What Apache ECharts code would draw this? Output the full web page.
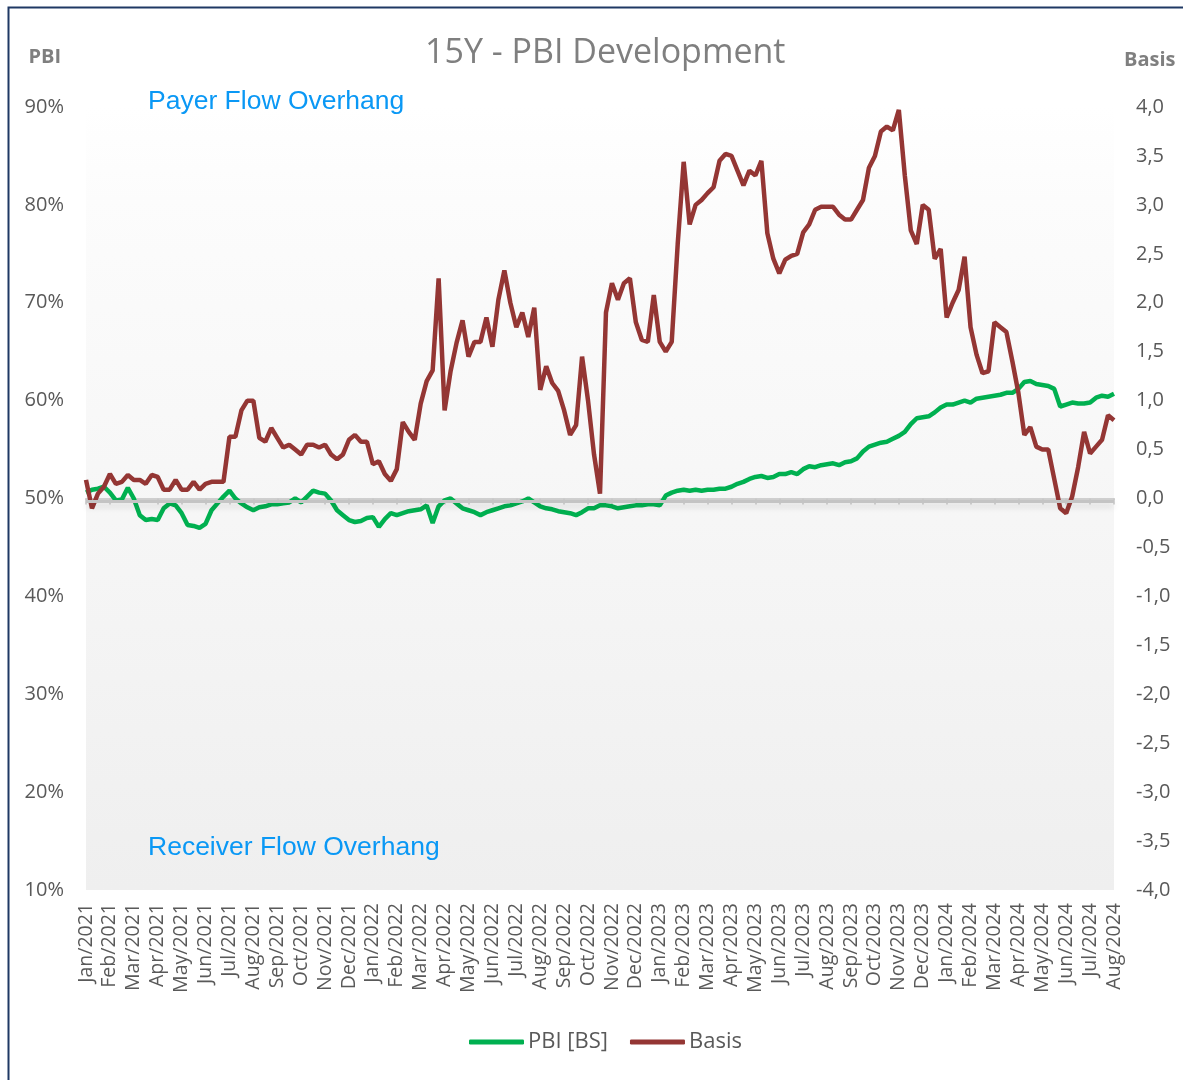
<!DOCTYPE html>
<html>
<head>
<meta charset="utf-8">
<title>15Y - PBI Development</title>
<script src="https://cdn.jsdelivr.net/npm/echarts@6/dist/echarts.min.js"></script>
<style>
  html, body { margin: 0; padding: 0; background: #fff; }
  #pbiChart { width: 1183px; height: 1080px; }
</style>
</head>
<body>
<div id="pbiChart"></div>
<script>
// month tick labels on the x axis
const months = [
  'Jan/2021', 'Feb/2021', 'Mar/2021', 'Apr/2021', 'May/2021', 'Jun/2021', 'Jul/2021', 'Aug/2021',
  'Sep/2021', 'Oct/2021', 'Nov/2021', 'Dec/2021', 'Jan/2022', 'Feb/2022', 'Mar/2022', 'Apr/2022',
  'May/2022', 'Jun/2022', 'Jul/2022', 'Aug/2022', 'Sep/2022', 'Oct/2022', 'Nov/2022', 'Dec/2022',
  'Jan/2023', 'Feb/2023', 'Mar/2023', 'Apr/2023', 'May/2023', 'Jun/2023', 'Jul/2023', 'Aug/2023',
  'Sep/2023', 'Oct/2023', 'Nov/2023', 'Dec/2023', 'Jan/2024', 'Feb/2024', 'Mar/2024', 'Apr/2024',
  'May/2024', 'Jun/2024', 'Jul/2024', 'Aug/2024'
];

// weekly observations (4 per month), PBI in %
const pbi = [
  50.6, 50.9, 51.0, 51.2, 50.6, 49.8, 49.9, 51.1, 50.0, 48.3, 47.8, 47.9, 47.8, 49.0, 49.5, 49.3,
  48.5, 47.3, 47.2, 47.0, 47.4, 48.8, 49.5, 50.2, 50.8, 50.0, 49.5, 49.1, 48.8, 49.1, 49.2, 49.4,
  49.4, 49.5, 49.6, 50.0, 49.6, 50.2, 50.8, 50.6, 50.5, 49.8, 48.8, 48.3, 47.8, 47.6, 47.7, 48.0,
  48.1, 47.1, 47.9, 48.5, 48.3, 48.5, 48.7, 48.8, 48.9, 49.3, 47.5, 49.2, 49.8, 50.0, 49.5, 49.0,
  48.8, 48.6, 48.3, 48.6, 48.8, 49.0, 49.2, 49.3, 49.5, 49.7, 50.0, 49.6, 49.2, 49.0, 48.9, 48.7,
  48.6, 48.5, 48.3, 48.6, 49.0, 49.0, 49.3, 49.3, 49.2, 49.0, 49.1, 49.2, 49.3, 49.3, 49.4, 49.4,
  49.3, 50.3, 50.6, 50.8, 50.9, 50.8, 50.9, 50.8, 50.9, 50.9, 51.0, 51.0, 51.2, 51.5, 51.7, 52.0,
  52.2, 52.3, 52.1, 52.2, 52.5, 52.5, 52.7, 52.5, 53.0, 53.3, 53.2, 53.4, 53.5, 53.6, 53.4, 53.7,
  53.8, 54.1, 54.8, 55.3, 55.5, 55.7, 55.8, 56.1, 56.4, 56.8, 57.6, 58.2, 58.3, 58.4, 58.8, 59.3,
  59.6, 59.6, 59.8, 60.0, 59.8, 60.2, 60.3, 60.4, 60.5, 60.6, 60.8, 60.8, 61.2, 61.9, 62.0, 61.7,
  61.6, 61.5, 61.2, 59.4, 59.6, 59.8, 59.7, 59.7, 59.8, 60.3, 60.5, 60.4, 60.7
];

// weekly basis values
const basis = [
  0.19, -0.10, 0.05, 0.12, 0.25, 0.15, 0.17, 0.24, 0.19, 0.19, 0.15, 0.24, 0.22, 0.09, 0.09, 0.19,
  0.09, 0.09, 0.17, 0.09, 0.15, 0.17, 0.17, 0.17, 0.63, 0.63, 0.90, 1.00, 1.00, 0.62, 0.58, 0.72,
  0.62, 0.52, 0.55, 0.50, 0.45, 0.55, 0.55, 0.52, 0.55, 0.45, 0.40, 0.45, 0.60, 0.65, 0.58, 0.58,
  0.35, 0.38, 0.25, 0.18, 0.30, 0.78, 0.68, 0.60, 0.97, 1.20, 1.31, 2.25, 0.90, 1.30, 1.59, 1.82,
  1.45, 1.60, 1.60, 1.85, 1.55, 2.03, 2.33, 2.00, 1.75, 1.90, 1.65, 1.95, 1.11, 1.35, 1.18, 1.10,
  0.90, 0.65, 0.75, 1.45, 1.00, 0.45, 0.05, 1.90, 2.20, 2.03, 2.20, 2.25, 1.80, 1.62, 1.60, 2.08,
  1.60, 1.50, 1.60, 2.60, 3.44, 2.80, 3.00, 3.05, 3.12, 3.18, 3.45, 3.52, 3.50, 3.35, 3.20, 3.35,
  3.30, 3.45, 2.71, 2.45, 2.30, 2.44, 2.48, 2.50, 2.72, 2.80, 2.95, 2.98, 2.98, 2.98, 2.90, 2.85,
  2.85, 2.95, 3.05, 3.38, 3.50, 3.75, 3.80, 3.76, 3.97, 3.30, 2.74, 2.60, 3.00, 2.95, 2.45, 2.55,
  1.85, 2.00, 2.13, 2.47, 1.75, 1.47, 1.28, 1.30, 1.80, 1.75, 1.70, 1.40, 1.08, 0.65, 0.73, 0.53,
  0.50, 0.50, 0.20, -0.10, -0.15, 0.02, 0.32, 0.68, 0.46, 0.53, 0.60, 0.85, 0.80
];

// one category per week, month start carries the month label
const weeks = [];
months.forEach(function (m, idx) {
  weeks.push(m);
  if (idx < months.length - 1) {
    for (let k = 2; k <= 4; k++) weeks.push(m + ' w' + k);
  }
});

const grey = '#595959';
const tickFont = 'Open Sans';

let myChart = echarts.init(document.getElementById('pbiChart'));

let option = {
  backgroundColor: '#ffffff',
  animation: false,
  title: {
    text: '15Y - PBI Development',
    left: 420,
    top: 31,
    textStyle: {
      color: '#7f7f7f',
      fontSize: 34,
      fontWeight: 'normal',
      fontFamily: tickFont
    }
  },
  legend: {
    bottom: 22,
    left: 464,
    data: ['PBI [BS]', 'Basis'],
    icon: 'roundRect',
    itemWidth: 55,
    itemHeight: 5,
    itemGap: 22,
    textStyle: { color: grey, fontSize: 22, fontFamily: tickFont, padding: [0, 0, 0, -1] }
  },
  grid: {
    left: 86,
    right: 69,
    top: 107,
    bottom: 190,
    show: true,
    borderWidth: 0,
    backgroundColor: new echarts.graphic.LinearGradient(0, 0, 0, 1, [
      { offset: 0, color: '#ffffff' },
      { offset: 0.12, color: '#fcfcfc' },
      { offset: 1, color: '#efefef' }
    ])
  },
  graphic: [
    {
      type: 'rect',
      left: 6,
      top: 5,
      shape: { width: 1200, height: 1100 },
      style: { fill: 'none', stroke: '#1f3864', lineWidth: 2 },
      silent: true
    },
    {
      type: 'text',
      left: 148,
      top: 88,
      style: { text: 'Payer Flow Overhang', fill: '#0a98f5', fontSize: 26.5, fontFamily: 'Liberation Sans' }
    },
    {
      type: 'text',
      left: 148,
      top: 834,
      style: { text: 'Receiver Flow Overhang', fill: '#0a98f5', fontSize: 26.5, fontFamily: 'Liberation Sans' }
    }
  ],
  xAxis: {
    type: 'category',
    data: weeks,
    boundaryGap: false,
    axisLine: { lineStyle: { color: '#d0d0d0', width: 2 } },
    axisTick: { interval: 3, length: 6, lineStyle: { color: '#c8c8c8', width: 1.5 } },
    axisLabel: {
      interval: 3,
      rotate: 90,
      margin: 13,
      color: grey,
      fontSize: 19.5,
      fontFamily: tickFont
    },
    splitLine: { show: false }
  },
  yAxis: [
    {
      type: 'value',
      min: 10,
      max: 90,
      interval: 10,
      name: 'PBI',
      nameLocation: 'end',
      nameGap: 40,
      nameTextStyle: { color: '#7f7f7f', fontSize: 20, fontWeight: 'bold', fontFamily: tickFont, align: 'right', padding: [0, 25, 0, 0] },
      axisLine: { show: false },
      axisTick: { show: false },
      splitLine: { show: false },
      axisLabel: { formatter: '{value}%', color: grey, fontSize: 20, fontFamily: tickFont, margin: 22 }
    },
    {
      type: 'value',
      min: -4,
      max: 4,
      interval: 0.5,
      name: 'Basis',
      nameLocation: 'end',
      nameGap: 37,
      nameTextStyle: { color: '#7f7f7f', fontSize: 20, fontWeight: 'bold', fontFamily: tickFont, align: 'left', padding: [0, 0, 0, 10] },
      axisLine: { show: false },
      axisTick: { show: false },
      splitLine: { show: false },
      axisLabel: {
        formatter: function (v) { return v.toFixed(1).replace('.', ','); },
        color: grey,
        fontSize: 20,
        fontFamily: tickFont,
        margin: 22
      }
    }
  ],
  series: [
    {
      name: 'zero',
      type: 'line',
      yAxisIndex: 1,
      data: [],
      z: 1,
      markLine: {
        silent: true,
        symbol: 'none',
        label: { show: false },
        lineStyle: {
          color: '#c4c4c4',
          width: 3,
          type: 'solid',
          shadowColor: 'rgba(0,0,0,0.15)',
          shadowBlur: 6,
          shadowOffsetY: 4
        },
        data: [{ yAxis: -0.03 }]
      }
    },
    {
      name: 'PBI [BS]',
      type: 'line',
      yAxisIndex: 0,
      data: pbi,
      showSymbol: false,
      z: 3,
      color: '#00b050',
      lineStyle: { width: 4.5, color: '#00b050' }
    },
    {
      name: 'Basis',
      type: 'line',
      yAxisIndex: 1,
      data: basis,
      showSymbol: false,
      z: 4,
      color: '#943634',
      lineStyle: { width: 4.5, color: '#943634' }
    }
  ]
};

myChart.setOption(option);
</script>
</body>
</html>
